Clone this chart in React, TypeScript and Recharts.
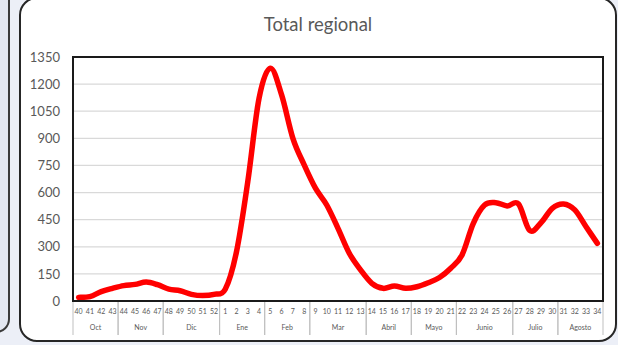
import React from "react"
import { LineChart, Line, XAxis, YAxis, CartesianGrid } from "recharts"

const weeks = [
  "40", "41", "42", "43", "44", "45", "46", "47", "48", "49", "50", "51", "52",
  "1", "2", "3", "4", "5", "6", "7", "8", "9", "10", "11", "12", "13", "14", "15", "16", "17",
  "18", "19", "20", "21", "22", "23", "24", "25", "26", "27", "28", "29", "30", "31", "32", "33", "34",
]
const cases = [
  20, 24, 52, 70, 85, 92, 105, 90, 66, 57, 37, 30, 37,
  65, 273, 660, 1122, 1288, 1140, 900, 753, 624, 531, 402, 264, 172, 98, 70, 83, 70,
  79, 101, 130, 181, 255, 430, 531, 544, 526, 537, 390, 433, 513, 537, 504, 411, 319,
]
const months = ["Oct", "Nov", "Dic", "Ene", "Feb", "Mar", "Abril", "Mayo", "Junio", "Julio", "Agosto"]
const monthWeeks = [4, 4, 5, 4, 4, 5, 4, 4, 5, 4, 4]
const yTicks = [0, 150, 300, 450, 600, 750, 900, 1050, 1200, 1350]

const data = weeks.map((week, i) => ({ week, total: cases[i] }))

// first index of each month group
const starts: number[] = []
monthWeeks.reduce((acc, n) => {
  starts.push(acc)
  return acc + n
}, 0)
const groupOf = weeks.map((_, i) => {
  let g = 0
  while (g + 1 < starts.length && starts[g + 1] <= i) g++
  return g
})

const W = 618
const H = 345
const PLOT_LEFT = 73
const PLOT_RIGHT = 603
const PLOT_TOP = 57
const X_AXIS_H = 44
const STEP = (PLOT_RIGHT - PLOT_LEFT) / weeks.length
const GREY = "#595959"

// Excel-like smoothed line (Catmull-Rom through the points)
function excelCurve(ctx: any) {
  let pts: number[][] = []
  return {
    areaStart() {},
    areaEnd() {},
    lineStart() {
      pts = []
    },
    point(x: number, y: number) {
      pts.push([+x, +y])
    },
    lineEnd() {
      if (!pts.length) return
      ctx.moveTo(pts[0][0], pts[0][1])
      for (let i = 0; i < pts.length - 1; i++) {
        const p0 = pts[Math.max(i - 1, 0)]
        const p1 = pts[i]
        const p2 = pts[i + 1]
        const p3 = pts[Math.min(i + 2, pts.length - 1)]
        ctx.bezierCurveTo(
          p1[0] + (p2[0] - p0[0]) / 6,
          p1[1] + (p2[1] - p0[1]) / 6,
          p2[0] - (p3[0] - p1[0]) / 6,
          p2[1] - (p3[1] - p1[1]) / 6,
          p2[0],
          p2[1]
        )
      }
    },
  }
}

function WeekTick(props: any) {
  const { x, y, payload } = props
  const i = payload.index
  const g = groupOf[i]
  const isStart = starts[g] === i
  const isEnd = starts[g] + monthWeeks[g] - 1 === i
  return (
    <g>
      <text x={x} y={y + 13} textAnchor="middle" fontSize={7} fill={GREY}>
        {payload.value}
      </text>
      {isStart && (
        <line x1={x - STEP / 2} x2={x - STEP / 2} y1={y} y2={y + 34} stroke="#bfbfbf" />
      )}
      {isEnd && (
        <line x1={x + STEP / 2} x2={x + STEP / 2} y1={y} y2={y + 34} stroke="#bfbfbf" />
      )}
      {isStart && (
        <text
          x={x + ((monthWeeks[g] - 1) * STEP) / 2}
          y={y + 29}
          textAnchor="middle"
          fontSize={7}
          fill={GREY}
        >
          {months[g]}
        </text>
      )}
    </g>
  )
}

export default function App() {
  return (
    <div
      style={{
        position: "absolute",
        left: 0,
        top: 0,
        width: W,
        height: H,
        overflow: "hidden",
        background: "#eceff7",
        fontFamily: "Lato, sans-serif",
      }}
    >
      <div
        style={{
          position: "absolute",
          left: -30,
          top: -20,
          width: 40,
          height: 353,
          boxSizing: "border-box",
          border: "2px solid #3a3a3a",
          borderRadius: 14,
          background: "#e3e7f1",
        }}
      />
      <div
        style={{
          position: "absolute",
          left: 19,
          top: -3,
          width: 598,
          height: 345,
          boxSizing: "border-box",
          border: "2px solid #262626",
          borderRadius: 18,
          background: "#fff",
        }}
      />
      <div
        style={{
          position: "absolute",
          left: 20,
          top: 13,
          width: 596,
          textAlign: "center",
          fontSize: 18.5,
          lineHeight: "22px",
          color: GREY,
        }}
      >
        Total regional
      </div>
      <div style={{ position: "absolute", left: 0, top: 0 }}>
        <LineChart
          width={W}
          height={H}
          data={data}
          margin={{ top: PLOT_TOP, right: W - PLOT_RIGHT, bottom: 0, left: 0 }}
        >
          <CartesianGrid vertical={false} stroke="#d9d9d9" strokeWidth={1.2} />
          <XAxis
            dataKey="week"
            scale="band"
            interval={0}
            height={X_AXIS_H}
            tickLine={false}
            tickSize={0}
            tickMargin={0}
            axisLine={false}
            tick={<WeekTick />}
          />
          <YAxis
            width={PLOT_LEFT}
            domain={[0, 1350]}
            ticks={yTicks}
            interval={0}
            tickLine={false}
            tickSize={0}
            tickMargin={13}
            axisLine={false}
            tick={{ fill: GREY, fontSize: 13 }}
          />
          <Line
            dataKey="total"
            type={excelCurve as any}
            stroke="#ff0000"
            strokeWidth={5.5}
            strokeLinecap="round"
            strokeLinejoin="round"
            dot={false}
            activeDot={false}
            isAnimationActive={false}
          />
        </LineChart>
      </div>
      {/* plot area frame */}
      <div
        style={{
          position: "absolute",
          left: PLOT_LEFT - 1,
          top: PLOT_TOP - 1,
          width: PLOT_RIGHT - PLOT_LEFT + 2,
          height: H - X_AXIS_H - PLOT_TOP + 2,
          boxSizing: "border-box",
          border: "2px solid #1a1a1a",
          pointerEvents: "none",
        }}
      />
    </div>
  )
}
